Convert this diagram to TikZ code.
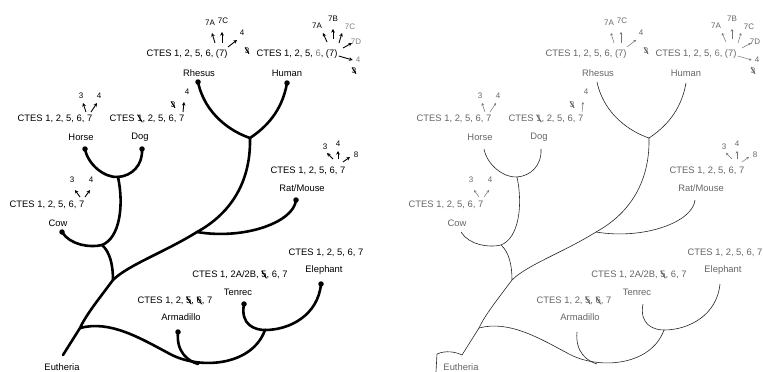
\documentclass[tikz,border=0pt]{standalone}
\usepackage{fontspec}
\setmainfont{Liberation Sans}
\usetikzlibrary{arrows.meta}
\newcommand\crossd[1]{\ooalign{#1\cr\hidewidth\raisebox{0.3em}{\rotatebox[origin=c]{-58}{\rule{0.95em}{1pt}}}\hidewidth\cr}}
\newcommand\treebody{%
  % ---- labels
  \node[sm] (r7a) at (210,23) {7A};
  \node[sm] (r7c) at (223,21) {7C};
  \node[sm] (r4) at (242,33) {4};
  \node[sm] (r3) at (247,51) {\crossd{3}};
  \node[lbl] (rct) at (187,54) {CTES 1, 2, 5, 6, (7)};
  \node[lbl] (rhn) at (199,73) {Rhesus};
  \node[sm] (h7a) at (317,26) {7A};
  \node[sm] (h7b) at (333,19) {7B};
  \node[sm,gr] (h7c) at (350,27) {7C};
  \node[sm,gr] (h7d) at (356,42) {7D};
  \node[sm,gr] (h4) at (358,60) {4};
  \node[sm] (h3) at (354,71) {\crossd{3}};
  \node[lbl] (hct) at (297,54) {CTES 1, 2, 5, {\color{gray}6}, (7)};
  \node[lbl] (hun) at (287,73) {Human};
  \node[sm] (o3) at (81,96) {3};
  \node[sm] (o4) at (99,96) {4};
  \node[lbl] (oct) at (55,119) {CTES 1, 2, 5, 6, 7};
  \node[lbl] (hon) at (81,137) {Horse};
  \node[sm] (d3) at (173,105) {\crossd{3}};
  \node[sm] (d4) at (187,92) {4};
  \node[lbl] (dct) at (147,119) {CTES \crossd{1}, 2, 5, 6, 7};
  \node[lbl] (dgn) at (140,137) {Dog};
  \node[sm] (c3) at (72,180) {3};
  \node[sm] (c4) at (91,180) {4};
  \node[lbl] (cct) at (47,205) {CTES 1, 2, 5, 6, 7};
  \node[lbl] (cwn) at (58,223) {Cow};
  \node[sm] (m3) at (325,147) {3};
  \node[sm] (m4) at (338,144) {4};
  \node[sm] (m8) at (356,155) {8};
  \node[lbl] (mct) at (308,171) {CTES 1, 2, 5, 6, 7};
  \node[lbl] (mmn) at (302,188) {Rat/Mouse};
  \node[lbl] (ect) at (326,253) {CTES 1, 2, 5, 6, 7};
  \node[lbl] (een) at (324,270) {Elephant};
  \node[lbl] (tct) at (240,275) {CTES 1, 2A/2B, \crossd{5}, 6, 7};
  \node[lbl] (ten) at (238,292) {Tenrec};
  \node[lbl] (act) at (175,301) {CTES 1, 2, \crossd{5}, \crossd{6}, 7};
  \node[lbl] (arn) at (181,317) {Armadillo};
  \node[lbl] (eut) at (62,367) {Eutheria};
  % ---- small arrows
  \draw[ar] (r7a) ++(5,20) -- ++(-3,-10);
  \draw[ar] (r7c) ++(-1,22) -- ++(0,-11);
  \draw[ar] (r4) ++(-14,14) -- ++(9,-7);
  \draw[ar] (h7a) ++(10,16) -- ++(-4,-9);
  \draw[ar] (h7b) ++(0,20) -- ++(0,-10);
  \draw[ar] (h7c) ++(-11,16) -- ++(3,-10);
  \draw[ar] (h7d) ++(-13,6) -- ++(9,-5);
  \draw[ar] (hct.east) ++(1,2) -- ++(14,4);
  \draw[ar] (o3) ++(5,16) -- ++(-3,-9);
  \draw[ar] (o4) ++(-8,16) -- ++(6,-9);
  \draw[ar] (d4) ++(-4,20) -- ++(1,-10);
  \draw[ar] (c3) ++(8,17) -- ++(-5,-7);
  \draw[ar] (c4) ++(-6,17) -- ++(5,-7);
  \draw[ar] (m3) ++(8,12) -- ++(-6,-6);
  \draw[ar] (m4) ++(0,15) -- ++(0,-8);
  \draw[ar] (m8) ++(-13,7) -- ++(7,-5);
  % ---- tree
  \node[leaf] (rh) at (198,82) {};
  \node[leaf] (hu) at (287,83) {};
  \node[leaf] (ho) at (85,149) {};
  \node[leaf] (dg) at (142,149) {};
  \node[leaf] (cw) at (62,232) {};
  \node[leaf] (rm) at (296,200) {};
  \node[leaf] (el) at (321,284) {};
  \node[leaf] (tn) at (244,304) {};
  \node[leaf] (am) at (178,332) {};
  \coordinate (prim) at (250,138);
  \coordinate (rodj) at (197,232);
  \coordinate (hdj) at (118,177);
  \coordinate (cwj) at (102,245);
  \coordinate (laj) at (113,280);
  \coordinate (afj) at (80,328);
  \coordinate (root) at (63,355);
  \coordinate (tej) at (265,330);
  \coordinate (amj) at (198,364);
  \draw[br] (rh.center) .. controls (205,115) and (232,132) .. (prim);
  \draw[br] (hu.center) .. controls (282,112) and (265,128) .. (prim);
  \draw[br] (prim) .. controls (251,185) and (228,215) .. (rodj)
     .. controls (165,252) and (128,265) .. (laj)
     .. controls (98,300) and (86,315) .. (afj) -- (root);
  \draw[br] (rm.center) .. controls (294,222) and (245,240) .. (rodj);
  \draw[br] (ho.center) .. controls (88,165) and (105,178) .. (hdj);
  \draw[br] (dg.center) .. controls (143,165) and (132,176) .. (hdj);
  \draw[br] (hdj) .. controls (124,205) and (120,238) .. (cwj);
  \draw[br] (cw.center) .. controls (70,245) and (90,248) .. (cwj);
  \draw[br] (cwj) .. controls (110,252) and (113,265) .. (laj);
  \draw[br] (afj) .. controls (110,320) and (140,338) .. (170,354)
     .. controls (200,370) and (252,366) .. (tej);
  \draw[br] (am.center) .. controls (176,352) and (188,361) .. (amj);
  \draw[br] (tn.center) .. controls (240,325) and (255,330) .. (tej);
  \draw[br] (el.center) .. controls (318,315) and (290,330) .. (tej);
}
\begin{document}
\begin{tikzpicture}[x=1pt,y=-1pt,
  lbl/.style={font=\fontsize{9.4}{11}\selectfont, inner sep=0pt},
  sm/.style={font=\fontsize{8}{9}\selectfont, inner sep=0pt},
  gr/.style={text=black!50},
  br/.style={line width=2.6pt, line cap=round},
  ar/.style={line width=0.9pt, -{Stealth[length=3.6pt,width=3.6pt]}},
  leaf/.style={circle, fill=black, inner sep=0pt, minimum size=5.5pt}]
\useasboundingbox (0,0) rectangle (764,372);
\fill[white] (0,0) rectangle (764,372);
\begin{scope}[name prefix=L-]
  \treebody
\end{scope}
\begin{scope}[name prefix=R-, xshift=399,
  lbl/.style={font=\fontsize{9.4}{11}\selectfont, inner sep=0pt, text=black!60},
  sm/.style={font=\fontsize{8}{9}\selectfont, inner sep=0pt, text=black!60},
  gr/.style={text=black!60},
  br/.style={line width=0.6pt, draw=black!85},
  ar/.style={line width=0.5pt, draw=black!55, -{Stealth[length=2.5pt,width=2.5pt]}},
  leaf/.style={inner sep=0pt, minimum size=0pt}]
  \treebody
  \draw[br] (R-root) .. controls (57,352) and (47,350) .. (38,354) -- (37,372);
\end{scope}
\end{tikzpicture}
\end{document}
